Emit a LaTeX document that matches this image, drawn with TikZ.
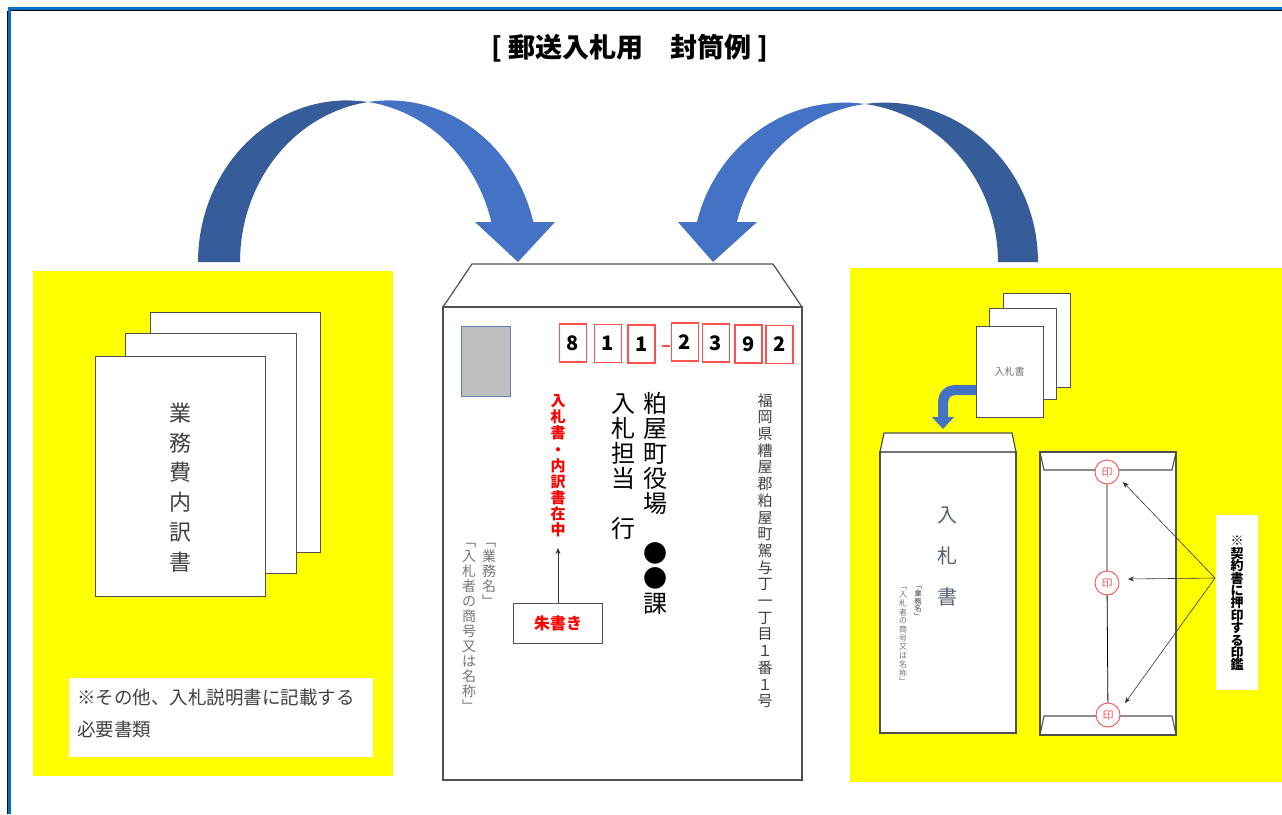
\documentclass[tikz,border=0pt]{standalone}
\usepackage{fontspec}
\setmainfont{Noto Sans CJK JP}
\usetikzlibrary{arrows.meta}
\definecolor{arrdark}{RGB}{54,93,154}
\definecolor{arrlight}{RGB}{68,114,196}
\definecolor{sealred}{RGB}{255,80,80}
\definecolor{txtgray}{RGB}{64,64,64}
\definecolor{softgray}{RGB}{118,118,118}
\definecolor{edgegray}{RGB}{80,80,80}
\definecolor{stampfill}{RGB}{191,191,191}
\definecolor{stampedge}{RGB}{100,128,180}
\definecolor{frameblue}{RGB}{0,112,192}
\definecolor{envtext}{RGB}{90,96,112}
\definecolor{panelyellow}{RGB}{255,255,0}
\newcommand\vstrut{\rule[-0.12em]{0pt}{1em}}
\newcommand\vcol[6]{\foreach \c [count=\i from 0] in {#6} {\node[vchar,#2] (#1-\i) at ({#3},{#4+\i*#5}) {\vstrut\c};}}
\tikzset{
  vchar/.style={inner sep=0pt},
  paper/.style={draw=edgegray, fill=white, line width=0.9pt},
  envline/.style={draw=edgegray, fill=white, line width=1.2pt},
  codebox/.style={draw=sealred, line width=1.1pt, minimum width=27pt, minimum height=38pt, inner sep=0pt, font=\fontsize{20}{20}\selectfont\bfseries},
  seal/.style={circle, draw=sealred, fill=white, line width=0.9pt, minimum size=24pt, inner sep=0pt, text=sealred, font=\fontsize{11}{11}\selectfont},
  ptr/.style={draw=black!80, line width=0.6pt, -{Stealth[length=6pt,width=5pt]}},
}
\begin{document}
\begin{tikzpicture}[x=1pt,y=-1pt]
\useasboundingbox (0,0) rectangle (1282,814);
\fill[white] (0,0) rectangle (1282,814);
% frame
\draw[black, line width=1.5pt] (7.5,11) -- (7.5,814);
\draw[black, line width=1.2pt] (11,10.6) -- (1282,10.6);
\draw[frameblue, line width=3pt] (9.6,814) -- (9.6,8.5) -- (1282,8.5);
% title
\node[font=\fontsize{27}{27}\selectfont\bfseries] (title) at (630,48) {[ 郵送入札用　封筒例 ]};

% ===== left panel =====
\fill[panelyellow] (33,271) rectangle (393,776);
\draw[paper] (150,312) rectangle (320,552);
\draw[paper] (125,333) rectangle (296,573);
\draw[paper] (95,356) rectangle (265,596);
\vcol{gyomu}{font=\fontsize{22}{22}\selectfont, text=txtgray}{180}{413}{29.8}{業,務,費,内,訳,書}
\node[fill=white, minimum width=304pt, minimum height=79pt, anchor=north west, inner sep=0pt] (note1) at (69,678) {};
\node[anchor=west, inner sep=0pt, font=\fontsize{18.5}{18.5}\selectfont, text=txtgray] (note1a) at (77,698) {※その他、入札説明書に記載する};
\node[anchor=west, inner sep=0pt, font=\fontsize{18.5}{18.5}\selectfont, text=txtgray] (note1b) at (77,729) {必要書類};

% ===== big arrows =====
% left arrow: ellipse A centre (347,262), ellipse B centre (389,262), radii 149 x 161.6
\fill[arrdark] plot[domain=180:81.9, samples=40] ({347+149*cos(\x)},{262-161.6*sin(\x)})
  -- plot[domain=98.1:180, samples=40] ({389+149*cos(\x)},{262-161.6*sin(\x)}) -- cycle;
\fill[arrlight] plot[domain=98.1:14.33, samples=40] ({389+149*cos(\x)},{262-161.6*sin(\x)})
  -- (555,222) -- (518,262) -- (475,222)
  -- plot[domain=14.33:81.9, samples=40] ({347+149*cos(\x)},{262-161.6*sin(\x)}) -- cycle;
% right arrow: ellipse A' centre (885,262), B' centre (845,262), radii 153 x 159.4
\fill[arrdark] plot[domain=0:97.5, samples=40] ({885+153*cos(\x)},{262-159.4*sin(\x)})
  -- plot[domain=82.5:0, samples=40] ({845+153*cos(\x)},{262-159.4*sin(\x)}) -- cycle;
\fill[arrlight] plot[domain=82.5:165.47, samples=40] ({845+153*cos(\x)},{262-159.4*sin(\x)})
  -- (678,222) -- (713,262) -- (757,222)
  -- plot[domain=165.47:97.5, samples=40] ({885+153*cos(\x)},{262-159.4*sin(\x)}) -- cycle;

% ===== center envelope =====
\draw[envline] (443,307) -- (472,264) -- (773,264) -- (802,307);
\draw[envline] (443,307) rectangle (802,780);
\node[draw=stampedge, fill=stampfill, line width=0.9pt, minimum width=49pt, minimum height=70pt, inner sep=0pt] (stamp) at (485.5,361) {};
\node[codebox] (z1) at (573,343) {8};
\node[codebox] (z2) at (608,343.5) {1};
\node[codebox] (z3) at (641.5,344) {1};
\draw[sealred, line width=1.1pt] (662,346) -- (670,346);
\node[codebox] (z4) at (685,342) {2};
\node[codebox] (z5) at (716,343) {3};
\node[codebox] (z6) at (748.5,344) {9};
\node[codebox] (z7) at (779.5,344.5) {2};
\vcol{addr}{font=\fontsize{15}{15}\selectfont, text=txtgray}{765}{400.4}{16.7}{福,岡,県,糟,屋,郡,粕,屋,町,駕,与,丁,一,丁,目,１,番,１,号}
\vcol{office}{font=\fontsize{24}{24}\selectfont}{655}{403}{25}{粕,屋,町,役,場,,●,●,課}
\vcol{tanto}{font=\fontsize{24}{24}\selectfont}{623}{403}{25}{入,札,担,当,,行}
\vcol{redt}{font=\fontsize{15}{15}\selectfont\bfseries, text=red}{558}{401}{16.1}{入,札,書,・,内,訳,書,在,中}
\vcol{gmei}{font=\fontsize{14}{14}\selectfont, text=softgray}{489}{541}{15}{﹁,業,務,名,﹂}
\vcol{shogo}{font=\fontsize{14}{14}\selectfont, text=softgray}{469}{541}{15}{﹁,入,札,者,の,商,号,又,は,名,称,﹂}
\node[draw=edgegray, fill=white, line width=1pt, minimum width=89pt, minimum height=40pt, inner sep=0pt, text=red, font=\fontsize{16}{16}\selectfont\bfseries] (shu) at (558,623) {朱書き};
\coordinate (shutip) at (558,548);
\draw[ptr] (shu.north) -- (shutip);

% ===== right panel =====
\fill[panelyellow] (850,268) rectangle (1282,782);
\draw[paper] (1003,293) rectangle (1070,387);
\draw[paper] (989,308) rectangle (1056,399);
\draw[paper] (976,326) rectangle (1043,417);
\node[inner sep=0pt, font=\fontsize{10}{10}\selectfont, text=softgray] (nyusatsu) at (1009.5,372) {入札書};
\fill[arrlight] (976,385) -- (956,385) .. controls (945,385) and (938,392) .. (938,403) -- (938,417) -- (932,417) -- (943,429) -- (954,417) -- (948,417) -- (948,403) .. controls (948,398) and (951,395) .. (956,395) -- (976,395) -- cycle;
% inner envelope
\draw[envline] (880,452) -- (884,433) -- (1012,433) -- (1016,452);
\draw[envline] (880,452) rectangle (1016,733);
\draw[edgegray!80, line width=2pt] (881,452) -- (1015,452);
\vcol{env}{font=\fontsize{20}{20}\selectfont, text=envtext}{947}{515}{41}{入,札,書}
\vcol{sgmei}{font=\fontsize{7.5}{7.5}\selectfont, text=txtgray}{918}{586}{7.6}{﹁,業,務,名,﹂}
\vcol{sshogo}{font=\fontsize{8}{8}\selectfont, text=softgray}{903}{586}{8.7}{﹁,入,札,者,の,商,号,又,は,名,称,﹂}
% back of envelope
\draw[envline] (1040,452) rectangle (1176,735);
\draw[edgegray, line width=1.1pt] (1040,452) -- (1044,470) -- (1172,470) -- (1176,452);
\draw[edgegray, line width=1.1pt] (1040,735) -- (1044,716) -- (1172,716) -- (1176,735);
\node[seal] (s1) at (1107,472) {印};
\node[seal] (s2) at (1107,583) {印};
\node[seal] (s3) at (1108,715) {印};
\draw[black, line width=0.8pt] (s1) -- (s2) -- (s3);
\node[fill=white, minimum width=42pt, minimum height=175pt, inner sep=0pt] (note2) at (1237,602.5) {};
\vcol{keiyaku}{font=\fontsize{13}{13}\selectfont\bfseries, text=black}{1237}{541}{12.4}{※,契,約,書,に,押,印,す,る,印,鑑}
\coordinate (np) at (1215,578);
\coordinate (a1) at (1123,482);
\coordinate (a2) at (1128,579);
\coordinate (a3) at (1125,703);
\draw[ptr] (np) -- (a1);
\draw[ptr] (np) -- (a2);
\draw[ptr] (np) -- (a3);
\end{tikzpicture}
\end{document}
